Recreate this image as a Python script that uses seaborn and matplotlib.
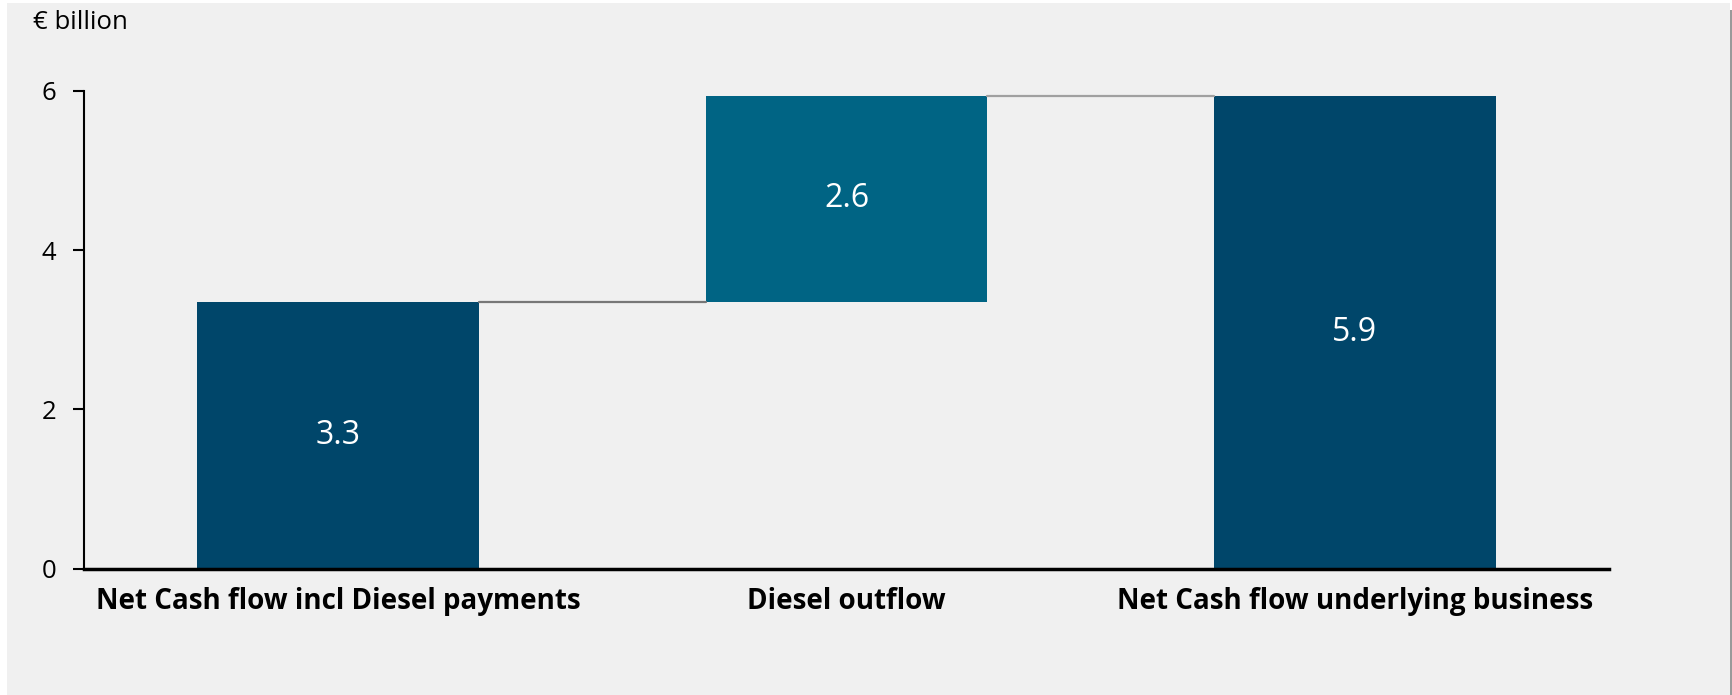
import matplotlib
matplotlib.use("Agg")
import matplotlib.pyplot as plt
import seaborn as sns
import pandas as pd
from matplotlib.patches import Rectangle

categories = ["Net Cash flow incl Diesel payments", "Diesel outflow", "Net Cash flow underlying business"]
bar_tops = [3.35, 5.94, 5.94]
bar_bases = [0.0, 3.35, 0.0]
value_labels = ["3.3", "2.6", "5.9"]
yticks = [0, 2, 4, 6]
unit_label = "€ billion"

BG = "#f0f0f0"
colors = ["#00466a", "#006484", "#00466a"]
FONT = ["Open Sans", "DejaVu Sans"]

sns.set_theme(style="white")
plt.rcParams["font.family"] = FONT
plt.rcParams["text.color"] = "black"
plt.rcParams["xtick.color"] = "black"
plt.rcParams["ytick.color"] = "black"

fig = plt.figure(figsize=(17.32, 6.95), dpi=100, facecolor="white")
fig.patches.append(Rectangle((7 / 1732, 0), 1723 / 1732, 1 - 3 / 695, transform=fig.transFigure,
                             facecolor=BG, edgecolor="none", zorder=-10))
fig.patches.append(Rectangle((1730 / 1732, 0), 2 / 1732, 1 - 10 / 695, transform=fig.transFigure,
                             facecolor="#9a9a9a", edgecolor="none", zorder=-9))
ax = fig.add_axes([84 / 1732, 1 - 568.6 / 695, (1609 - 84) / 1732, (568.6 - 91) / 695])
ax.set_facecolor(BG)

df = pd.DataFrame({"cat": categories, "top": bar_tops, "base": bar_bases})
W = 0.554
sns.barplot(data=df, x="cat", y="top", hue="cat", palette=colors, width=W,
            legend=False, ax=ax, saturation=1, linewidth=0)
sns.barplot(data=df, x="cat", y="base", color=BG, width=W + 0.002, ax=ax,
            saturation=1, linewidth=0)

# connectors
ax.plot([0 + W / 2, 1 - W / 2], [bar_tops[0], bar_tops[0]], color="#777777", lw=1.6, zorder=3)
ax.plot([1 + W / 2, 2 - W / 2], [bar_tops[1], bar_tops[1]], color="#a0a0a0", lw=1.6, zorder=3)

for i, (t, b, lab) in enumerate(zip(bar_tops, bar_bases, value_labels)):
    ax.text(i, (t + b) / 2, lab, ha="center", va="center", color="white", fontsize=23)

ax.set_xlim(-0.5, 2.5)
ax.set_ylim(0, 6)
ax.set_yticks(yticks)
ax.set_yticklabels([str(v) for v in yticks], fontsize=18.5)
ax.set_xlabel("")
ax.set_ylabel("")
ax.tick_params(axis="y", length=8, width=1.5, direction="out", pad=12, colors="black", left=True)
ax.tick_params(axis="x", length=0, pad=13, labelsize=20, colors="black")
for lab in ax.get_xticklabels():
    lab.set_fontweight("bold")
for s in ["top", "right"]:
    ax.spines[s].set_visible(False)
ax.spines["left"].set_color("black")
ax.spines["left"].set_linewidth(1.5)
ax.spines["bottom"].set_color("black")
ax.spines["bottom"].set_linewidth(2.5)

fig.text(33 / 1732, 1 - 29 / 695, unit_label, fontsize=18.5, ha="left", va="baseline", color="black")

fig.savefig("out.png", dpi=100, facecolor=fig.get_facecolor())
